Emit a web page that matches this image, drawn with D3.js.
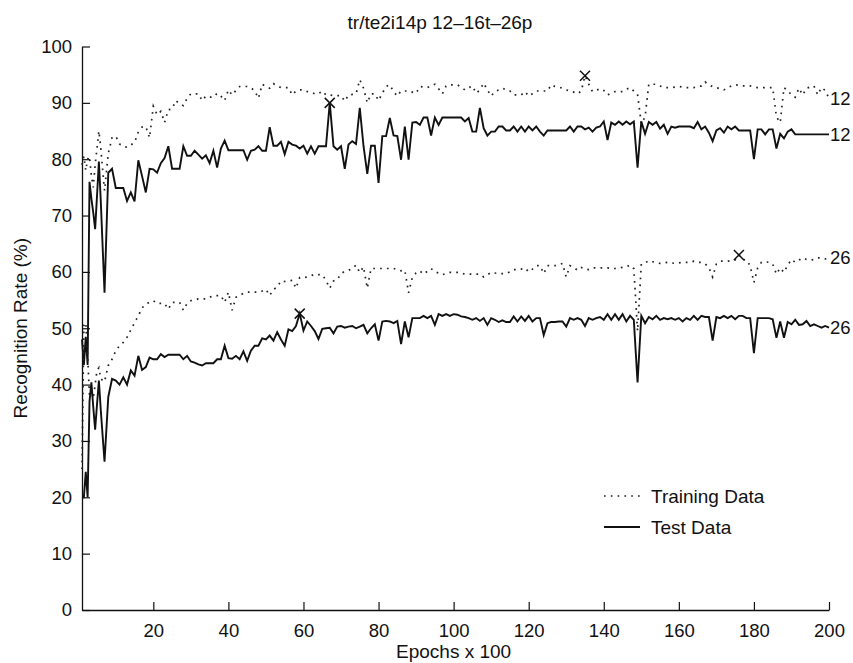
<!DOCTYPE html>
<html>
<head>
<meta charset="utf-8">
<script src="https://cdn.jsdelivr.net/npm/d3@7"></script>
<style>
  body { margin: 0; background: #fff; }
  svg { display: block; }
  text { font-family: "Liberation Sans", Arial, Helvetica, sans-serif; fill: #111; }
</style>
</head>
<body>
<svg id="chart" width="853" height="663"></svg>
<script>
// Epochs (x 100): half steps over the first few hundred epochs, then every 100.
const epochs = [1, 1.5, 2, 2.5, 3, 3.5, 4, 4.5, 5, 5.5].concat(d3.range(6, 201));

// 12-class network, training set recognition rate (%)
const train12 = [
  79, 80.5, 78, 80, 80.5, 77, 75, 79, 82, 85,
  82, 74.4, 81, 83.8, 84.1, 82.7, 82.3, 82.1, 82.5, 83,
  84.8, 85.7, 85.8, 83.8, 89.4, 87.9, 88.5, 86.5, 88.8, 88.9,
  90.4, 89.8, 89.5, 90.8, 91.6, 91.6, 91.6, 90.4, 91.2, 91,
  91, 91.7, 91.2, 90.4, 92.3, 91.4, 92.2, 92.9, 92.9, 92.9,
  92.7, 92.1, 90.8, 93.3, 92.9, 92.6, 93.4, 93, 92.7, 92.7,
  92.7, 91.4, 92.1, 92.3, 92.3, 92, 91.9, 91.6, 91.6, 92.1,
  91.4, 91.4, 91.3, 91.3, 91.3, 90.3, 91.4, 91.5, 91.6, 94.1,
  92.6, 90, 91.6, 91.6, 90.4, 91.7, 92.9, 93.2, 92, 91.2,
  92.1, 92.1, 92.1, 91.9, 91.7, 92.9, 92.8, 92.7, 93, 93.3,
  92.5, 91.6, 93, 93.2, 93.2, 93.2, 92.8, 92.3, 92.7, 93,
  91.7, 92.3, 93.5, 92.3, 91.2, 92, 92.3, 92.6, 92.3, 92.1,
  91.4, 91.4, 91.4, 92, 91.2, 91.6, 92.1, 92.1, 92.1, 92.1,
  93.2, 92.9, 92.8, 92.6, 92.3, 92.1, 91.9, 91.6, 92.1, 94.8,
  93.3, 92, 92.2, 92.5, 92.2, 91.4, 91.7, 92, 92, 92,
  92.4, 92.7, 92.1, 91.5, 86.3, 87.5, 93.3, 93.3, 93.3, 93,
  92.7, 92.7, 92.7, 92.8, 92.9, 92.8, 92.7, 92.7, 92.7, 92.9,
  93, 93.7, 93.2, 92.9, 92.7, 92.5, 92.3, 92.7, 93, 93.2,
  93.1, 93, 93, 93, 92.8, 92.7, 92.7, 92.7, 92.7, 92.7,
  87.5, 86.5, 92.7, 92.2, 91.4, 91, 92.6, 91.4, 92.6, 92.8,
  93, 91.4, 92.7, 92.2, 90.8
];

// 12-class network, test set recognition rate (%)
const test12 = [
  48, 43.5, 48.5, 43.5, 76, 73, 70.5, 67.6, 73.5, 79.6,
  72.6, 56.3, 77.6, 78.3, 74.9, 74.9, 74.9, 72.6, 74.1, 72.5,
  79.8, 77, 74.1, 78.3, 78.2, 77.6, 79.3, 80.2, 82.3, 78.3,
  78.3, 78.3, 82.3, 80.6, 80.6, 81.5, 80.8, 80.1, 80.7, 79.3,
  81.5, 78.5, 81.9, 83.3, 81.6, 81.6, 81.6, 81.6, 81.6, 79.9,
  81.5, 81.7, 82.3, 81.5, 81.5, 85.7, 82.4, 82.4, 83.1, 80.9,
  83.1, 82.6, 82.4, 81.9, 82.4, 81, 82.3, 81, 82.3, 82.3,
  82.3, 90, 82.3, 81.7, 82.3, 78.3, 82.6, 83.2, 82.7, 89.1,
  82.3, 77.4, 82.4, 82.4, 75.8, 84.1, 84.1, 87.3, 84.2, 84.1,
  79.9, 85.8, 79.9, 86.5, 86.6, 86.1, 87.4, 87.4, 84.2, 87.4,
  86.1, 87.4, 87.4, 87.4, 87.4, 87.4, 87.4, 86.7, 87.3, 84.9,
  84.9, 89.1, 85.5, 84.2, 84.9, 84.9, 85.8, 85.8, 85.1, 85.1,
  85.8, 84.9, 85.8, 84.9, 85.8, 85.1, 85.8, 84.9, 84.2, 85.1,
  85.1, 85.1, 85.1, 85.1, 85.1, 85.8, 84.9, 85.8, 85.8, 85.3,
  85.6, 84.9, 85.6, 85.8, 86.7, 83.4, 86.5, 86.1, 86.7, 86.1,
  86.7, 86.2, 86.7, 78.5, 86.7, 84.5, 86.6, 86.1, 86.6, 85.4,
  86.1, 84.5, 85.8, 85.6, 85.8, 85.8, 85.8, 85.8, 85.5, 86.6,
  85.3, 85.8, 84.7, 83.2, 85.1, 85.5, 84.7, 85.8, 85.3, 85.8,
  85.1, 85.1, 85.1, 85.1, 80, 85.3, 85.3, 84.4, 85.3, 85.3,
  81.9, 84.5, 83.7, 84.9, 85.3, 84.4, 84.4, 84.4, 84.4, 84.4,
  84.4, 84.4, 84.4, 84.4, 84.4
];

// 26-class network, training set recognition rate (%)
const train26 = [
  25, 50.5, 51, 45, 38, 39, 37.5, 40, 42.5, 43,
  41, 40.5, 43.4, 44.5, 46, 46.9, 47.5, 48.4, 49.7, 51,
  52.2, 53.6, 54.3, 54.6, 54.9, 54.4, 54.4, 54.4, 53.4, 54.6,
  54.6, 54.6, 53.2, 54.4, 54.9, 55, 55.2, 55.2, 55.2, 55.5,
  55.8, 55.8, 55.8, 54.6, 56.4, 53.2, 55.5, 55.8, 56.2, 56.4,
  56.4, 56.4, 56.4, 56.6, 56.9, 55.8, 56.9, 57.3, 58.4, 58.3,
  58.4, 58.5, 57.1, 59, 59, 59.1, 59.3, 59.6, 59.5, 59.5,
  58.5, 57.1, 58.4, 58.6, 59.7, 60.1, 60.3, 60.6, 61.2, 59.9,
  60.9, 57.1, 60.6, 60.6, 60.6, 60.6, 60.6, 60.6, 60.6, 60.4,
  60.2, 60.3, 56.3, 59, 59.8, 60.2, 59.6, 60.1, 60.6, 60,
  59.8, 59.5, 59.7, 59.9, 59.9, 59.9, 59.8, 59.6, 59.6, 59.6,
  59.6, 59.6, 59.1, 59.5, 59.9, 59.8, 59.7, 59.7, 59.7, 60,
  60.4, 60.4, 60.5, 60.7, 60, 60.5, 61.1, 61.1, 59.7, 61.1,
  61.1, 61.1, 61.3, 61.5, 59.1, 61.1, 60.8, 60.3, 60.8, 60.5,
  60.4, 60.7, 60.7, 60.7, 60.7, 60.7, 60.6, 60.6, 60.7, 60.8,
  60.9, 61.2, 60.6, 49.5, 61.4, 61.6, 62, 61.8, 61.7, 61.5,
  61.6, 61.7, 61.6, 61.5, 61.6, 61.7, 61.7, 61.7, 61.9, 61.7,
  61.7, 61.4, 60.8, 59.1, 61.4, 61.9, 61.9, 61.9, 62, 62.1,
  63, 62.2, 62.1, 61.1, 58.1, 60.7, 61.7, 61.8, 61.7, 61.4,
  59.6, 60.7, 59.9, 61.2, 62.2, 61.7, 62.1, 62.5, 62.2, 62.1,
  62.2, 62.5, 62.5, 62.3, 62.5
];

// 26-class network, test set recognition rate (%)
const test26 = [
  20, 20, 24.5, 20, 37, 40.4, 36, 32, 36.5, 40.7,
  35.5, 26.3, 37.8, 41, 40.7, 40, 41.3, 40, 42.5, 41.6,
  45.1, 42.6, 43.1, 44.8, 44.5, 44.5, 45.4, 44.9, 45.3, 45.3,
  45.3, 45.3, 44.5, 45.1, 44.1, 43.9, 43.6, 43.4, 43.8, 43.8,
  43.8, 44.5, 44.5, 46.9, 44.7, 44.6, 45.1, 44.5, 45.9, 44.2,
  46, 46.9, 46.9, 48.2, 48, 48.7, 47.8, 49.3, 48, 46.9,
  49.8, 49.5, 50.4, 52.6, 49.6, 51.2, 50.4, 49.5, 48.1, 49.9,
  50, 50.1, 49.1, 50.3, 50.4, 50.1, 50.3, 50.4, 50, 50.3,
  50.6, 49.1, 50, 50.7, 47.8, 51.2, 51.3, 51.2, 50.9, 51.3,
  47.2, 51.2, 48.4, 51.8, 51.8, 51.8, 52.2, 51.8, 52.2, 50.6,
  52.5, 52.2, 52.5, 52.2, 52.5, 52.4, 52.1, 52, 51.8, 51.5,
  51.8, 51.3, 51.8, 50.6, 51.8, 51.5, 51.1, 51.4, 51.1, 51.1,
  52.1, 51.2, 52.1, 51.3, 52.2, 51.2, 51.8, 51.8, 48.8, 50.9,
  51.1, 51.1, 51.2, 51.2, 50.3, 51.8, 51.5, 51.8, 51.5, 50.4,
  51.8, 51.5, 51.8, 52, 51.5, 52.5, 51.5, 52.5, 51.5, 52.5,
  51.2, 52.2, 51.5, 40.4, 52.2, 50.9, 52, 51.6, 52.2, 51.5,
  51.8, 51.6, 51.8, 51.5, 51.8, 51.2, 51.8, 51.5, 52.2, 51.5,
  52.2, 52, 52, 47.8, 52, 51.8, 52.2, 51.8, 52.2, 51.6,
  52.2, 52.2, 51.8, 51.8, 45.6, 51.8, 51.8, 51.8, 51.8, 51.6,
  48.3, 51.2, 48.3, 51.1, 50.7, 51.5, 50.6, 50.7, 51.3, 50.4,
  50.7, 50.4, 50.1, 50.4, 50.1
];

const xTicks = [20, 40, 60, 80, 100, 120, 140, 160, 180, 200];
const yTicks = [0, 10, 20, 30, 40, 50, 60, 70, 80, 90, 100];
const titleText = "tr/te2i14p 12\u201316t\u201326p";
const legendLabels = ["Training Data", "Test Data"];

const series = [
  { name: "12", kind: "train", values: train12 },
  { name: "12", kind: "test",  values: test12 },
  { name: "26", kind: "train", values: train26 },
  { name: "26", kind: "test",  values: test26 }
];

const styles = {
  train: { stroke: "#222", width: 1.7, dash: "1.7,5.1" },
  test:  { stroke: "#111", width: 1.9, dash: null }
};

const svg = d3.select("#chart");
const x = d3.scaleLinear().domain([1, 200]).range([82, 829]);
const y = d3.scaleLinear().domain([0, 100]).range([610, 46.5]);

// title
svg.append("text")
  .attr("x", 440).attr("y", 29)
  .attr("text-anchor", "middle")
  .style("font-size", "19px")
  .text(titleText);

// axes with inward ticks
const gx = svg.append("g")
  .attr("transform", `translate(0,${y(0)})`)
  .call(d3.axisBottom(x).tickValues(xTicks).tickSizeInner(-8).tickSizeOuter(0).tickPadding(14));
const gy = svg.append("g")
  .attr("transform", `translate(${x(1)},0)`)
  .call(d3.axisLeft(y).tickValues(yTicks).tickSizeInner(-8).tickSizeOuter(0).tickPadding(10));

[gx, gy].forEach(g => {
  g.select(".domain").attr("stroke", "#111").attr("stroke-width", 1.3);
  g.selectAll(".tick line").attr("stroke", "#111").attr("stroke-width", 1.2);
  g.selectAll(".tick text").style("font-size", "18.5px").attr("fill", "#111");
});

// axis titles
svg.append("text")
  .attr("x", x(100)).attr("y", 658)
  .attr("text-anchor", "middle")
  .style("font-size", "19px")
  .text("Epochs x 100");
svg.append("text")
  .attr("transform", `translate(27,${y(50)}) rotate(-90)`)
  .attr("text-anchor", "middle")
  .style("font-size", "19px")
  .text("Recognition Rate (%)");

// series lines
const line = d3.line()
  .x((d, i) => x(epochs[i]))
  .y(d => y(d));

series.forEach(s => {
  const st = styles[s.kind];
  svg.append("path")
    .datum(s.values)
    .attr("fill", "none")
    .attr("stroke", st.stroke)
    .attr("stroke-width", st.width)
    .attr("stroke-dasharray", st.dash)
    .attr("d", line);

  // cross at the best rate of each curve
  const iMax = d3.maxIndex(s.values);
  svg.append("path")
    .attr("transform", `translate(${x(epochs[iMax])},${y(s.values[iMax])})`)
    .attr("d", "M-5,-5L5,5M-5,5L5,-5")
    .attr("stroke", "#111")
    .attr("stroke-width", 1.5)
    .attr("fill", "none");

  // class-count tag at the end of each curve
  const last = s.values[s.values.length - 1];
  svg.append("text")
    .attr("x", x(200) + 1)
    .attr("y", y(last))
    .attr("dy", "0.36em")
    .style("font-size", "18.5px")
    .text(s.name);
});

// legend
const legend = svg.append("g").attr("transform", "translate(604,496)");
legendLabels.forEach((lab, i) => {
  const st = styles[i === 0 ? "train" : "test"];
  const row = legend.append("g").attr("transform", `translate(0,${i * 31})`);
  row.append("line")
    .attr("x1", 0).attr("x2", 36).attr("y1", 0).attr("y2", 0)
    .attr("stroke", st.stroke)
    .attr("stroke-width", st.width)
    .attr("stroke-dasharray", st.dash);
  row.append("text")
    .attr("x", 47).attr("y", 0).attr("dy", "0.36em")
    .style("font-size", "19px")
    .text(lab);
});
</script>
</body>
</html>
